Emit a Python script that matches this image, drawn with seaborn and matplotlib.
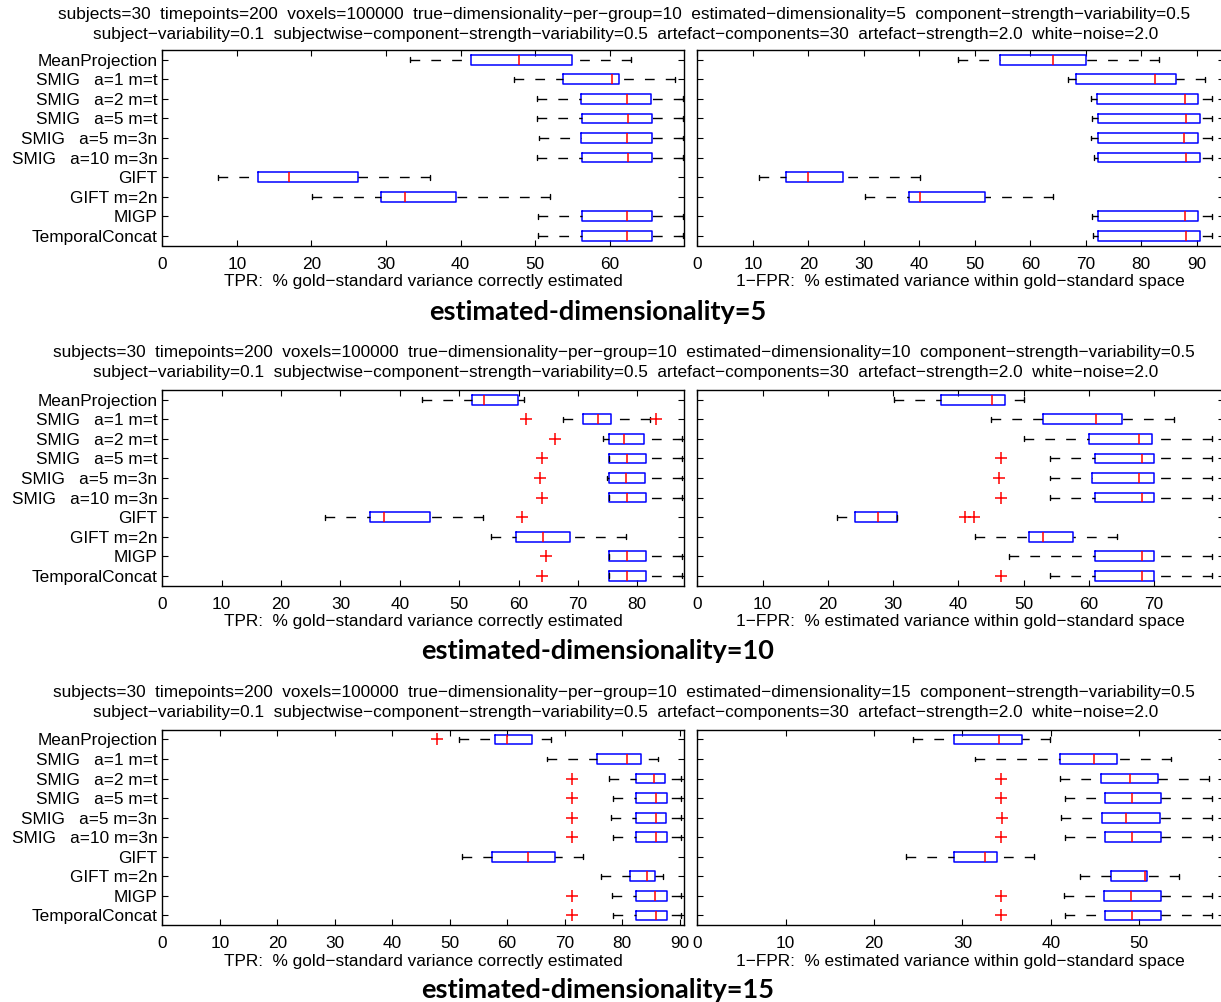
import numpy as np
import pandas as pd
import matplotlib
matplotlib.use("Agg")
import matplotlib.pyplot as plt
import seaborn as sns

methods = ["MeanProjection", "SMIG   a=1 m=t", "SMIG   a=2 m=t", "SMIG   a=5 m=t",
           "SMIG   a=5 m=3n", "SMIG   a=10 m=3n", "GIFT", "GIFT m=2n", "MIGP",
           "TemporalConcat"]

# Five-number summaries per method: lower whisker, Q1, median, Q3, upper whisker
tpr_d5 = [
    [33.2, 41.4, 47.8, 55.0, 62.8],
    [47.2, 53.7, 60.3, 61.2, 68.8],
    [50.2, 56.2, 62.3, 65.5, 69.8],
    [50.3, 56.3, 62.4, 65.7, 69.8],
    [50.5, 56.2, 62.3, 65.6, 69.8],
    [50.3, 56.3, 62.4, 65.7, 69.8],
    [7.5, 12.8, 17.0, 26.3, 35.9],
    [20.1, 29.3, 32.6, 39.4, 52.0],
    [50.4, 56.3, 62.3, 65.7, 69.8],
    [50.4, 56.3, 62.3, 65.7, 69.8],
]
fpr_d5 = [
    [46.9, 54.5, 64.0, 70.0, 83.2],
    [66.8, 68.2, 82.5, 86.2, 91.5],
    [70.9, 72.0, 87.8, 90.3, 92.7],
    [71.2, 72.2, 88.1, 90.5, 92.7],
    [71.0, 72.2, 87.7, 90.3, 92.7],
    [71.4, 72.2, 88.1, 90.5, 92.7],
    [11.2, 16.0, 19.9, 26.2, 40.1],
    [30.2, 38.2, 40.2, 51.8, 64.1],
    [71.2, 72.2, 87.9, 90.3, 92.7],
    [71.3, 72.2, 88.0, 90.5, 92.7],
]
tpr_d10 = [
    [43.8, 52.2, 54.1, 59.9, 60.9],
    [67.5, 70.9, 73.4, 75.5, 82.2],
    [74.2, 75.2, 77.8, 81.1, 87.6],
    [75.3, 75.3, 78.3, 81.5, 87.6],
    [74.9, 75.2, 78.1, 81.3, 87.6],
    [75.3, 75.3, 78.3, 81.5, 87.6],
    [27.4, 35.0, 37.3, 45.1, 54.0],
    [55.4, 59.6, 64.1, 68.6, 78.1],
    [75.3, 75.3, 78.2, 81.4, 87.6],
    [75.3, 75.3, 78.3, 81.5, 87.6],
]
fpr_d10 = [
    [30.1, 37.3, 45.2, 47.2, 50.0],
    [45.0, 53.0, 61.1, 65.0, 73.0],
    [50.1, 60.0, 67.6, 69.7, 78.8],
    [54.0, 60.9, 68.2, 70.0, 78.8],
    [54.0, 60.4, 67.6, 69.9, 78.8],
    [54.0, 60.9, 68.1, 70.0, 78.8],
    [21.4, 24.1, 27.7, 30.6, 30.6],
    [42.5, 50.8, 53.0, 57.6, 64.3],
    [47.8, 61.0, 68.1, 70.0, 78.8],
    [54.0, 61.0, 68.2, 70.0, 78.8],
]
tpr_d15 = [
    [51.6, 57.8, 60.0, 64.4, 67.7],
    [66.9, 75.7, 80.8, 83.3, 86.3],
    [77.8, 82.4, 85.6, 87.4, 90.2],
    [78.4, 82.5, 85.9, 87.8, 90.2],
    [78.0, 82.4, 85.9, 87.6, 90.2],
    [78.4, 82.5, 85.9, 87.8, 90.2],
    [52.1, 57.4, 63.7, 68.3, 73.2],
    [76.3, 81.3, 84.3, 85.8, 87.2],
    [78.2, 82.5, 85.8, 87.8, 90.2],
    [78.4, 82.5, 85.9, 87.8, 90.2],
]
fpr_d15 = [
    [24.4, 29.1, 34.1, 36.7, 39.9],
    [31.4, 41.0, 44.9, 47.5, 53.6],
    [41.0, 45.7, 49.0, 52.1, 57.9],
    [41.6, 46.1, 49.2, 52.5, 58.2],
    [41.2, 45.8, 48.5, 52.4, 58.2],
    [41.6, 46.1, 49.2, 52.5, 58.2],
    [23.6, 29.0, 32.5, 33.9, 38.1],
    [43.3, 46.8, 50.7, 50.9, 54.5],
    [41.5, 46.0, 49.1, 52.5, 58.2],
    [41.6, 46.1, 49.2, 52.5, 58.2],
]

# Outlying runs per method
tpr_d5_out = [[], [], [], [], [], [], [], [], [], []]
fpr_d5_out = [[], [], [], [], [], [], [], [], [], []]
tpr_d10_out = [[], [61.2, 83.1], [66.1], [64.0], [63.6], [63.9], [60.6], [], [64.7], [63.9]]
fpr_d10_out = [[], [], [], [46.6], [46.2], [46.5], [41.0, 42.4], [], [], [46.6]]
tpr_d15_out = [[47.8], [], [71.3], [71.3], [71.3], [71.3], [], [], [71.3], [71.3]]
fpr_d15_out = [[], [], [34.4], [34.4], [34.5], [34.4], [], [], [34.4], [34.4]]

est_dims = [5, 10, 15]
tpr_xmax = [69.9, 87.8, 90.7]
fpr_xmax = [94.9, 80.7, 59.6]
tpr_ticks = [range(0, 61, 10), range(0, 81, 10), range(0, 91, 10)]
fpr_ticks = [range(0, 91, 10), range(0, 71, 10), range(0, 51, 10)]

tpr_label = "TPR:  % gold\u2212standard variance correctly estimated"
fpr_label = "1\u2212FPR:  % estimated variance within gold\u2212standard space"

header_1 = ("subjects=30  timepoints=200  voxels=100000  true\u2212dimensionality\u2212per\u2212group=10  "
            "estimated\u2212dimensionality={d}  component\u2212strength\u2212variability=0.5")
header_2 = ("subject\u2212variability=0.1  subjectwise\u2212component\u2212strength\u2212variability=0.5  "
            "artefact\u2212components=30  artefact\u2212strength=2.0  white\u2212noise=2.0")

sns.set_theme(style="ticks", rc={
    "axes.linewidth": 1.0,
    "axes.edgecolor": "black",
    "xtick.color": "black",
    "ytick.color": "black",
    "text.color": "black",
    "axes.labelcolor": "black",
})
plt.rcParams["font.family"] = ["Liberation Sans", "DejaVu Sans"]
plt.rcParams["font.size"] = 12.4

W, H = 1221, 1002
fig = plt.figure(figsize=(W / 100, H / 100), dpi=100)

WHISKER_DASH = (0, (7, 8))


def draw_panel(ax, summary, outliers, xmax, ticks, xlabel, show_labels):
    df = pd.DataFrame({
        "method": np.repeat(methods, 5),
        "value": np.concatenate([np.asarray(s, dtype=float) for s in summary]),
    })
    sns.boxplot(
        data=df, x="value", y="method", order=methods, orient="y",
        whis=np.inf, width=0.5, fill=False, linewidth=1.0,
        boxprops=dict(color="#0000ff", linewidth=1.1),
        medianprops=dict(color="#ff0000", linewidth=1.1),
        whiskerprops=dict(color="black", linestyle=WHISKER_DASH, linewidth=1.0),
        capprops=dict(color="black", linewidth=1.0),
        ax=ax,
    )
    # start the dash pattern at the cap end of each whisker
    for line in ax.lines:
        if line.get_linestyle() == "--":
            xd, yd = line.get_data()
            line.set_data(np.asarray(xd)[::-1], np.asarray(yd)[::-1])
    out_v = [v for vals in outliers for v in vals]
    out_m = [methods[i] for i, vals in enumerate(outliers) for _ in vals]
    if out_v:
        sns.stripplot(
            x=out_v, y=out_m, order=methods, orient="y", jitter=False,
            marker="+", size=9, color="#ff0000", linewidth=1.1, ax=ax,
        )
    ax.set_xlim(0, xmax)
    ax.set_xticks(list(ticks))
    ax.set_xlabel(xlabel, labelpad=2, fontsize=12.4)
    ax.set_ylabel("")
    ax.tick_params(axis="both", direction="in", length=4, width=0.8,
                   top=True, right=True, labelsize=12.4)
    ax.tick_params(axis="x", pad=8)
    ax.tick_params(axis="y", pad=3.5, labelleft=show_labels)
    for sp in ax.spines.values():
        sp.set_visible(True)
        sp.set_color("black")


panel_tops = [50, 390, 729.7]
ax_h = 195.5
left_x0, right_x0, ax_w = 162.3, 697.3, 521.3
right_w = 1224 - right_x0
header_y = [(14, 34), (353, 373), (693, 713)]
title_y = [312, 651, 990]

data_sets = [
    (tpr_d5, tpr_d5_out, fpr_d5, fpr_d5_out),
    (tpr_d10, tpr_d10_out, fpr_d10, fpr_d10_out),
    (tpr_d15, tpr_d15_out, fpr_d15, fpr_d15_out),
]

for k, (tpr, tpr_out, fpr, fpr_out) in enumerate(data_sets):
    bottom = 1 - (panel_tops[k] + ax_h) / H
    ax_l = fig.add_axes([left_x0 / W, bottom, ax_w / W, ax_h / H])
    ax_r = fig.add_axes([right_x0 / W, bottom, right_w / W, ax_h / H])
    draw_panel(ax_l, tpr, tpr_out, tpr_xmax[k], tpr_ticks[k], tpr_label, True)
    draw_panel(ax_r, fpr, fpr_out, fpr_xmax[k], fpr_ticks[k], fpr_label, False)

    fig.text(624 / W, 1 - header_y[k][0] / H, header_1.format(d=est_dims[k]),
             ha="center", va="center", fontsize=12.4)
    fig.text(626 / W, 1 - header_y[k][1] / H, header_2,
             ha="center", va="center", fontsize=12.4)
    fig.text(598 / W, 1 - title_y[k] / H, f"estimated-dimensionality={est_dims[k]}",
             ha="center", va="center", fontsize=19.5, fontweight="bold",
             family=["Lato", "DejaVu Sans"])

fig.savefig("out.png", dpi=100)
